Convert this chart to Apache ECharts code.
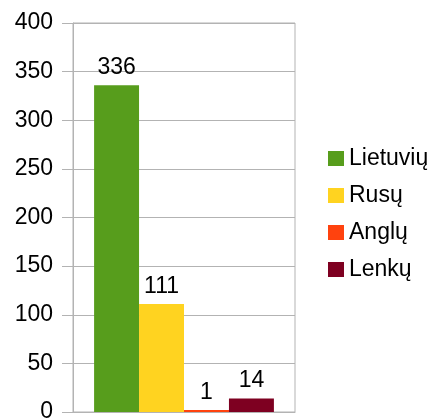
<!DOCTYPE html>
<html>
<head>
<meta charset="utf-8">
<script src="https://cdn.jsdelivr.net/npm/echarts@6/dist/echarts.min.js"></script>
<style>
	html, body { margin: 0; padding: 0; background: #fff; }
	#chart { width: 438px; height: 419px; }
</style>
</head>
<body>
<div id="chart"></div>
<script>
	var categories = ['']
	var seriesNames = ['Lietuvių', 'Rusų', 'Anglų', 'Lenkų']
	var seriesValues = [[336], [111], [1], [14]]
	var seriesColors = ['#579d1c', '#ffd320', '#ff420e', '#7e0021']

	var chart = echarts.init(document.getElementById('chart'))
	var font = 'Liberation Sans, Arial, sans-serif'

	var series = seriesNames.map(function(name, i) {
		return {
			name: name,
			type: 'bar',
			data: seriesValues[i],
			barGap: '0%',
			barCategoryGap: '19%',
			barMinHeight: 2,
			itemStyle: { color: seriesColors[i] },
			label: {
				show: true,
				position: 'top',
				distance: 6,
				color: '#000',
				fontFamily: font,
				fontSize: 23
			}
		}
	})

	chart.setOption({
		animation: false,
		textStyle: { fontFamily: font },
		grid: {
			left: 73,
			right: 143,
			top: 23,
			bottom: 7,
			outerBoundsMode: 'none',
			containLabel: false,
			show: true,
			borderColor: '#b3b3b3',
			borderWidth: 1
		},
		legend: {
			orient: 'vertical',
			left: 323,
			top: 142,
			itemWidth: 16,
			itemHeight: 15,
			itemGap: 14,
			icon: 'rect',
			data: seriesNames,
			textStyle: { fontSize: 23, color: '#000', fontFamily: font }
		},
		xAxis: {
			type: 'category',
			data: categories,
			axisLine: { lineStyle: { color: '#b3b3b3' } },
			axisTick: { show: false },
			axisLabel: { show: false }
		},
		yAxis: {
			type: 'value',
			min: 0,
			max: 400,
			interval: 50,
			axisLine: { show: true, lineStyle: { color: '#b3b3b3' } },
			axisTick: { show: true, length: 11, lineStyle: { color: '#b3b3b3' } },
			axisLabel: { color: '#000', fontSize: 23, fontFamily: font, margin: 20 },
			splitLine: { lineStyle: { color: '#b3b3b3' } }
		},
		series: series
	})
</script>
</body>
</html>
